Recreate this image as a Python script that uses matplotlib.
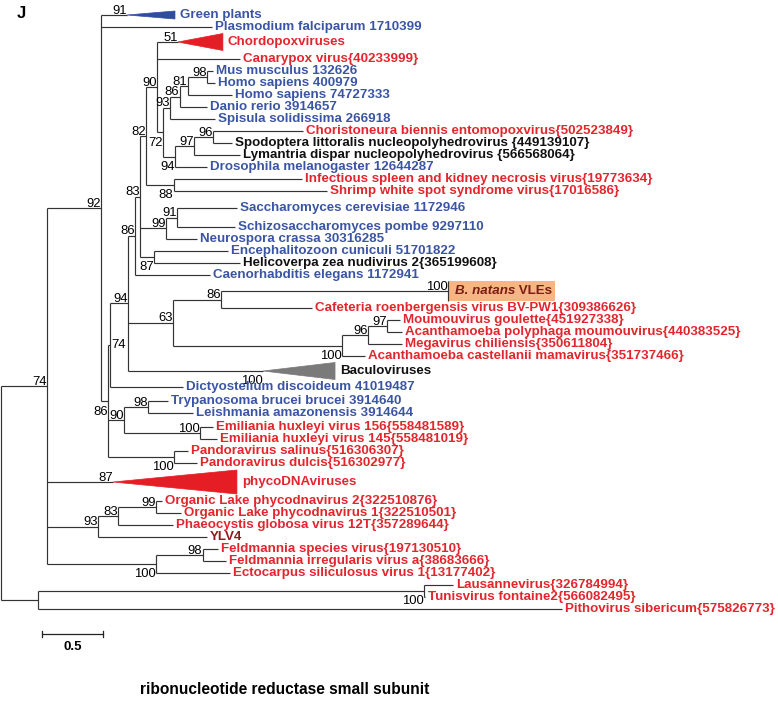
import matplotlib
matplotlib.use("Agg")
import matplotlib.pyplot as plt
from matplotlib.patches import Polygon, Rectangle

plt.rcParams['font.family'] = ['Liberation Sans', 'DejaVu Sans']

# -- internal nodes (branch lengths in substitutions/site, bootstrap support) --
node_names = ["root", "A", "B", "C", "D", "M", "N", "R", "P", "T", "U", "X", "Y",
              "n93", "n86a", "n81", "n98a", "Z", "n97a", "n96a", "O", "V", "n91", "W",
              "S", "n86b", "n100b", "n96b", "n97b", "J", "K", "L", "Pan", "E", "G", "H",
              "F", "I"]
node_parent = [None, "root", "root", "B", "A", "D", "M", "N", "R", "P", "T", "U", "X",
               "Y", "n93", "n86a", "n81", "Y", "Z", "n97a", "U", "T", "V", "T",
               "R", "S", "S", "n100b", "n96b", "M", "J", "J", "M", "A", "E", "G",
               "A", "F"]
node_len = [0.0, 0.377, 0.303, 3.164, 0.443, 0.057, 0.016, 0.148, 0.057, 0.041, 0.049,
            0.090, 0.049, 0.057, 0.082, 0.066, 0.156, 0.098, 0.156, 0.156, 0.230, 0.213,
            0.090, 0.115, 0.369, 0.393, 1.385, 0.213, 0.156, 0.131, 0.197, 0.623, 0.541,
            0.418, 0.164, 0.311, 0.893, 0.385]
node_support = [None, 74, None, 100, 92, 86, 74, 94, 86, 83, 82, 90, 72, 93, 86, 81, 98,
                94, 97, 96, 88, 99, 91, 87, 63, 86, 100, 96, 97, 90, 98, 100, 100, 93, 83,
                99, 100, 98]
# where the support value sits: a = above branch, b = below, r = right of node
node_support_pos = ["a", "a", "a", "b", "a", "b", "r", "a", "a", "a", "a", "a", "b",
                    "a", "a", "a", "a", "b", "a", "a", "b", "a", "a", "b", "a", "a",
                    "b", "a", "a", "a", "a", "a", "b", "a", "a", "a", "b", "a"]

# -- leaves, top to bottom --
leaf_names = [
    "Green plants", "Plasmodium falciparum 1710399", "Chordopoxviruses",
    "Canarypox virus{40233999}", "Mus musculus 132626", "Homo sapiens 400979",
    "Homo sapiens 74727333", "Danio rerio 3914657", "Spisula solidissima 266918",
    "Choristoneura biennis entomopoxvirus{502523849}",
    "Spodoptera littoralis nucleopolyhedrovirus {449139107}",
    "Lymantria dispar nucleopolyhedrovirus {566568064}",
    "Drosophila melanogaster 12644287",
    "Infectious spleen and kidney necrosis virus{19773634}",
    "Shrimp white spot syndrome virus{17016586}", "Saccharomyces cerevisiae 1172946",
    "Schizosaccharomyces pombe 9297110", "Neurospora crassa 30316285",
    "Encephalitozoon cuniculi 51701822", "Helicoverpa zea nudivirus 2{365199608}",
    "Caenorhabditis elegans 1172941", "B. natans VLEs",
    "Cafeteria roenbergensis virus BV-PW1{309386626}", "Moumouvirus goulette{451927338}",
    "Acanthamoeba polyphaga moumouvirus{440383525}", "Megavirus chiliensis{350611804}",
    "Acanthamoeba castellanii mamavirus{351737466}", "Baculoviruses",
    "Dictyostelium discoideum 41019487", "Trypanosoma brucei brucei 3914640",
    "Leishmania amazonensis 3914644", "Emiliania huxleyi virus 156{558481589}",
    "Emiliania huxleyi virus 145{558481019}", "Pandoravirus salinus{516306307}",
    "Pandoravirus dulcis{516302977}", "phycoDNAviruses",
    "Organic Lake phycodnavirus 2{322510876}", "Organic Lake phycodnavirus 1{322510501}",
    "Phaeocystis globosa virus 12T{357289644}", "YLV4",
    "Feldmannia species virus{197130510}", "Feldmannia irregularis virus a{38683666}",
    "Ectocarpus siliculosus virus 1{13177402}", "Lausannevirus{326784994}",
    "Tunisvirus fontaine2{566082495}", "Pithovirus sibericum{575826773}"]
leaf_parent = ["D", "D", "X", "X", "n98a", "n98a", "n81", "n86a", "n93", "n96a", "n96a",
               "n97a", "Z", "O", "O", "n91", "n91", "V", "W", "W", "P", "n86b", "n86b",
               "n97b", "n97b", "n96b", "n100b", "R", "N", "K", "K", "L", "L", "Pan", "Pan",
               "A", "H", "H", "G", "E", "I", "I", "F", "C", "C", "B"]
leaf_len = [0.213, 0.910, 0.172, 0.680, 0.049, 0.066, 0.361, 0.221, 0.369, 0.738, 0.156,
            0.377, 0.262, 1.049, 1.254, 0.492, 0.475, 0.254, 0.607, 0.705, 0.615, 1.861,
            0.746, 0.107, 0.123, 0.279, 0.189, 1.107, 0.598, 0.164, 0.369, 0.107, 0.139,
            0.115, 0.189, 0.541, 0.049, 0.205, 0.451, 0.893, 0.123, 0.189, 0.607, 0.238,
            0.008, 4.295]
# e = eukaryote, v = virus, k = insect virus (black), y = YLV4, b = B. natans VLEs
leaf_group = list("eevveeeeevkkevveeeekebvvvvvkeeevvvvvvvvyvvvvvv")

# collapsed clades: depth of triangle and support of the clade
clade_names = ["Green plants", "Chordopoxviruses", "B. natans VLEs", "Baculoviruses",
               "phycoDNAviruses"]
clade_depth = [0.393, 0.369, 0.0, 0.590, 1.016]
clade_support = [91, 51, 100, 100, 87]
clade_support_pos = ["a", "a", "a", "b", "a"]

# -- layout / styles --
PX_PER_UNIT = 122.0   # 0.5 scale bar is 61 px long
ROW_PX = 12.0
TOP_PX = 15.0
W, H = 778, 704
# extra vertical room (px) above some rows, as in the MEGA layout
row_pad = {"Chordopoxviruses": 3, "Canarypox virus{40233999}": 5,
           "Saccharomyces cerevisiae 1172946": 5, "Schizosaccharomyces pombe 9297110": 7,
           "B. natans VLEs": 4, "Cafeteria roenbergensis virus BV-PW1{309386626}": 5,
           "Baculoviruses": 3, "Dictyostelium discoideum 41019487": 4,
           "Trypanosoma brucei brucei 3914640": 2, "Emiliania huxleyi virus 156{558481589}": 2,
           "phycoDNAviruses": 7, "Organic Lake phycodnavirus 2{322510876}": 7}
colors = {"e": "#3b55a4", "v": "#e3262d", "k": "#111111", "y": "#8e1b1b", "b": "#7a1d12"}
clade_fill = {"Green plants": "#2f4c9f", "Chordopoxviruses": "#e51e25",
              "Baculoviruses": "#7a7a7a", "phycoDNAviruses": "#e51e25"}
clade_half = {"Green plants": 4, "Chordopoxviruses": 8.5, "B. natans VLEs": 10,
              "Baculoviruses": 8.5, "phycoDNAviruses": 12}
LINE = dict(color="#333333", lw=0.85, solid_capstyle="butt")
LEAF_FS = 9.6
BOOT_FS = 9.4

fig = plt.figure(figsize=(W / 100, H / 100), dpi=100)
ax = fig.add_axes([0, 0, 1, 1])
xmin = -1 / PX_PER_UNIT
ax.set_xlim(xmin, xmin + W / PX_PER_UNIT)
ax.set_ylim(H, 0)
ax.axis("off")

# leaf rows in pixels from the top
leaf_y = []
y = TOP_PX
for i, name in enumerate(leaf_names):
    if i > 0:
        y += ROW_PX + row_pad.get(name, 0)
    leaf_y.append(y)

kids = {}
for n, p in zip(node_names, node_parent):
    if p:
        kids.setdefault(p, []).append(("node", n))
for i, p in enumerate(leaf_parent):
    kids.setdefault(p, []).append(("leaf", i))

node_x, node_y, leaf_x = {}, {}, {}


def place(name, x):
    node_x[name] = x
    ys = []
    for kind, k in kids[name]:
        if kind == "node":
            place(k, x + node_len[node_names.index(k)])
            ys.append(node_y[k])
        else:
            leaf_x[k] = x + leaf_len[k]
            ys.append(leaf_y[k])
    node_y[name] = (min(ys) + max(ys)) / 2
    ax.plot([x, x], [min(ys), max(ys)], **LINE)


place("root", 0.0)


def support_label(val, x, y, pos):
    if val is None:
        return
    if pos == "a":
        ax.annotate(str(val), (x, y), xytext=(-0.3, 1.0), textcoords="offset points",
                    ha="right", va="baseline", fontsize=BOOT_FS)
    elif pos == "b":
        ax.annotate(str(val), (x, y), xytext=(-0.3, -3.2), textcoords="offset points",
                    ha="right", va="top", fontsize=BOOT_FS)
    else:
        ax.annotate(str(val), (x, y), xytext=(1.2, 0), textcoords="offset points",
                    ha="left", va="center", fontsize=BOOT_FS)


# internal branches
for i, n in enumerate(node_names):
    p = node_parent[i]
    if p is None:
        continue
    ax.plot([node_x[p], node_x[n]], [node_y[n], node_y[n]], **LINE)
    support_label(node_support[i], node_x[n], node_y[n], node_support_pos[i])

# leaves
for i, name in enumerate(leaf_names):
    x0, x1, y = node_x[leaf_parent[i]], leaf_x[i], leaf_y[i]
    ax.plot([x0, x1], [y, y], **LINE)
    col = colors[leaf_group[i]]
    if name in clade_names:
        c = clade_names.index(name)
        support_label(clade_support[c], x1, y, clade_support_pos[c])
        hh = clade_half[name]
        if clade_depth[c] > 0:
            x2 = x1 + clade_depth[c]
            ax.add_patch(Polygon([(x1, y), (x2, y - hh), (x2, y + hh)], closed=True,
                                 facecolor=clade_fill[name], edgecolor=clade_fill[name],
                                 lw=0.5))
            ax.annotate(name, (x2, y), xytext=(3.5, 0), textcoords="offset points",
                        va="center", fontsize=LEAF_FS, fontweight="bold", color=col)
        else:
            # B. natans VLEs: highlighted box with bar
            ax.add_patch(Rectangle((x1, y - hh), 107 / PX_PER_UNIT, 2 * hh,
                                   facecolor="#f6b584", edgecolor="none", zorder=0))
            ax.plot([x1, x1], [y - hh, y + hh], **LINE)
            t1 = ax.annotate("B. natans", (x1, y), xytext=(5, 0), textcoords="offset points",
                             va="center", fontsize=LEAF_FS, fontweight="bold",
                             fontstyle="italic", color=col)
            ax.annotate(" VLEs", xy=(1, 0.5), xycoords=t1, va="center", ha="left",
                        fontsize=LEAF_FS, fontweight="bold", color=col)
    else:
        ax.annotate(name, (x1, y), xytext=(2.0, 0), textcoords="offset points",
                    va="center", fontsize=LEAF_FS, fontweight="bold", color=col)

# scale bar
sb_x0 = 41 / PX_PER_UNIT
sb_y = 634
tick = 3
ax.plot([sb_x0, sb_x0 + 0.5], [sb_y, sb_y], color="#222222", lw=0.9)
ax.plot([sb_x0, sb_x0], [sb_y - tick, sb_y + tick], color="#222222", lw=0.9)
ax.plot([sb_x0 + 0.5, sb_x0 + 0.5], [sb_y - tick, sb_y + tick], color="#222222", lw=0.9)
ax.text(sb_x0 + 0.25, sb_y + 13, "0.5", ha="center", va="center", fontsize=9.5,
        fontweight="bold")

fig.text(17 / W, 1 - 13 / H, "J", fontsize=12, fontweight="bold", ha="left", va="center")
fig.text(140 / W, 1 - 690 / H, "ribonucleotide reductase small subunit", fontsize=11.2,
         fontweight="bold", ha="left", va="center")

fig.savefig("out.png", dpi=100)
